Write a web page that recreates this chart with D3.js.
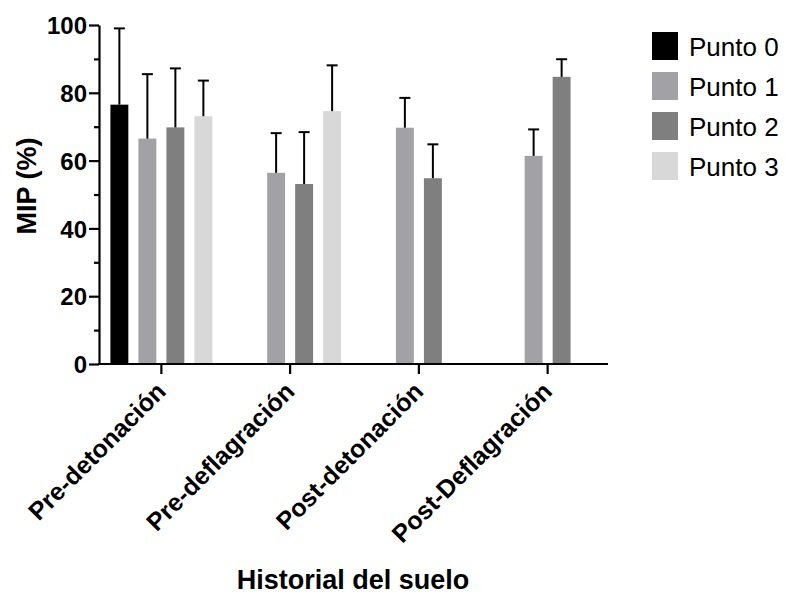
<!DOCTYPE html>
<html>
<head>
<meta charset="utf-8">
<script src="https://cdn.jsdelivr.net/npm/d3@7"></script>
<style>
  body { margin: 0; background: #fff; }
  svg { display: block; font-family: "Liberation Sans", Arial, sans-serif; }
</style>
</head>
<body>
<div id="chart"></div>
<script>
// categories and series
const categories = ["Pre-detonación", "Pre-deflagración", "Post-detonación", "Post-Deflagración"];
const seriesNames = ["Punto 0", "Punto 1", "Punto 2", "Punto 3"];
const seriesColors = ["#000000", "#a2a2a6", "#7f7f7f", "#d8d8d8"];

// mean MIP (%) per category, null = no bar
const punto0Mean = [76.5, null, null, null];
const punto1Mean = [66.5, 56.4, 69.7, 61.4];
const punto2Mean = [69.8, 53.1, 54.8, 84.7];
const punto3Mean = [73.1, 74.6, null, null];

// upper error (SD)
const punto0Err = [22.5, null, null, null];
const punto1Err = [19.0, 11.7, 8.8, 7.8];
const punto2Err = [17.4, 15.3, 10.0, 5.2];
const punto3Err = [10.5, 13.5, null, null];

const yTicks = [0, 20, 40, 60, 80, 100];
const yMinorTicks = [10, 30, 50, 70, 90];

const means = [punto0Mean, punto1Mean, punto2Mean, punto3Mean];
const errs = [punto0Err, punto1Err, punto2Err, punto3Err];

// flat table of bars
const bars = [];
categories.forEach((c, i) => {
  seriesNames.forEach((s, j) => {
    if (means[j][i] != null) bars.push({cat: c, series: s, idx: j, value: means[j][i], err: errs[j][i]});
  });
});

const W = 785, H = 594;
const svg = d3.select("#chart").append("svg").attr("width", W).attr("height", H);

const y = d3.scaleLinear().domain([0, 100]).range([364, 25]);
const x0 = d3.scaleBand().domain(categories).range([97, 612]);
const x1 = d3.scaleBand().domain(seriesNames).range([-56, 56]).paddingInner(0.36).paddingOuter(0.18);
const color = d3.scaleOrdinal().domain(seriesNames).range(seriesColors);

const cx = c => x0(c) + x0.bandwidth() / 2;

// bars
svg.append("g").selectAll("rect")
  .data(bars)
  .join("rect")
  .attr("x", d => cx(d.cat) + x1(d.series))
  .attr("width", x1.bandwidth())
  .attr("y", d => y(d.value))
  .attr("height", d => y(0) - y(d.value))
  .attr("fill", d => color(d.series));

// error bars (upper only)
const eb = svg.append("g").attr("stroke", "#000").attr("stroke-width", 2);
eb.selectAll("line.v")
  .data(bars)
  .join("line")
  .attr("class", "v")
  .attr("x1", d => cx(d.cat) + x1(d.series) + x1.bandwidth() / 2)
  .attr("x2", d => cx(d.cat) + x1(d.series) + x1.bandwidth() / 2)
  .attr("y1", d => y(d.value))
  .attr("y2", d => y(d.value + d.err));
eb.selectAll("line.cap")
  .data(bars)
  .join("line")
  .attr("class", "cap")
  .attr("x1", d => cx(d.cat) + x1(d.series) + x1.bandwidth() / 2 - 5.5)
  .attr("x2", d => cx(d.cat) + x1(d.series) + x1.bandwidth() / 2 + 5.5)
  .attr("y1", d => y(d.value + d.err))
  .attr("y2", d => y(d.value + d.err));

// y axis
const yAxis = svg.append("g")
  .attr("transform", "translate(99,0)")
  .call(d3.axisLeft(y).tickValues(yTicks).tickSize(10).tickPadding(2).tickSizeOuter(0));
yAxis.select(".domain").attr("stroke-width", 2.2);
yAxis.selectAll(".tick line").attr("stroke-width", 2.2);
yAxis.selectAll("text")
  .attr("font-size", 24)
  .attr("font-weight", "bold")
  .attr("fill", "#000")
  .attr("dy", "0.36em");
svg.append("g")
  .attr("transform", "translate(99,0)")
  .call(d3.axisLeft(y).tickValues(yMinorTicks).tickSize(5).tickFormat("").tickSizeOuter(0))
  .call(g => g.select(".domain").remove())
  .selectAll("line").attr("stroke-width", 2.2);

// x axis
const xAxis = svg.append("g")
  .attr("transform", "translate(0,364)")
  .call(d3.axisBottom(x0).tickSize(10).tickSizeOuter(0));
xAxis.select(".domain").attr("d", "M98,0H608").attr("stroke-width", 2.2);
xAxis.selectAll(".tick line").attr("stroke-width", 2.2);
xAxis.selectAll("text")
  .attr("font-size", 25)
  .attr("font-weight", "bold")
  .attr("fill", "#000")
  .attr("text-anchor", "end")
  .attr("y", 0)
  .attr("dy", 0)
  .attr("transform", "translate(6,29) rotate(-45)");

// axis titles
svg.append("text")
  .attr("transform", "translate(36,186) rotate(-90)")
  .attr("text-anchor", "middle")
  .attr("font-size", 27)
  .attr("font-weight", "bold")
  .text("MIP (%)");

svg.append("text")
  .attr("x", 353)
  .attr("y", 589)
  .attr("text-anchor", "middle")
  .attr("font-size", 27)
  .attr("font-weight", "bold")
  .text("Historial del suelo");

// legend
const legend = svg.append("g").attr("transform", "translate(652,32)");
const item = legend.selectAll("g")
  .data(seriesNames)
  .join("g")
  .attr("transform", (d, i) => `translate(0,${i * 40})`);
item.append("rect")
  .attr("width", 26)
  .attr("height", 28)
  .attr("fill", d => color(d));
item.append("text")
  .attr("x", 37)
  .attr("y", 24)
  .attr("font-size", 26)
  .attr("fill", "#000")
  .text(d => d);
</script>
</body>
</html>
